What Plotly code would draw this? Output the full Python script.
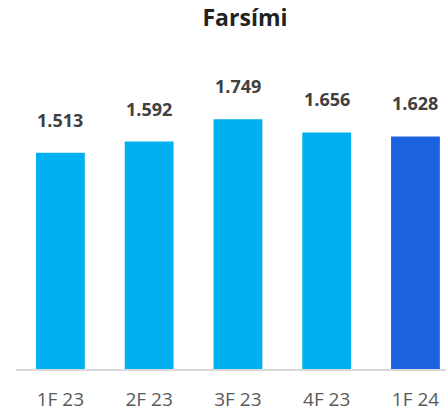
import plotly.graph_objects as go

categories = ["1F 23", "2F 23", "3F 23", "4F 23", "1F 24"]
values = [1513, 1592, 1749, 1656, 1628]
labels = ["1.513", "1.592", "1.749", "1.656", "1.628"]
colors = ["#00B0F0", "#00B0F0", "#00B0F0", "#00B0F0", "#1B63DE"]

fig = go.Figure()
fig.add_trace(go.Bar(
    x=categories, y=values, marker_color=colors, width=0.55,
    marker_line_width=0, hoverinfo="skip"
))
for c, v, t in zip(categories, values, labels):
    fig.add_annotation(x=c, y=v, text="<b>%s</b>" % t, showarrow=False,
                       yanchor="bottom", yshift=19,
                       font=dict(family="Open Sans", size=18, color="#404040"))

fig.update_layout(
    width=446, height=413,
    margin=dict(l=16, r=0, t=89, b=44),
    paper_bgcolor="white", plot_bgcolor="white",
    showlegend=False,
    title=dict(text="<b>Farsími</b>", x=245/446, xanchor="center",
               y=1-18/413, yanchor="middle",
               font=dict(family="Open Sans", size=23, color="#222222")),
    xaxis=dict(range=[-0.5, 4.344], showgrid=False, showline=True,
               linecolor="#D9D9D9", linewidth=2, ticks="outside",
               ticklen=12, tickcolor="rgba(0,0,0,0)",
               tickfont=dict(family="Open Sans", size=19, color="#595959")),
    yaxis=dict(range=[0, 1960], visible=False, showgrid=False),
)
fig.write_html("out.html", config={"displayModeBar": False},
               post_script="document.body.style.margin='0';document.body.style.overflow='hidden';")
